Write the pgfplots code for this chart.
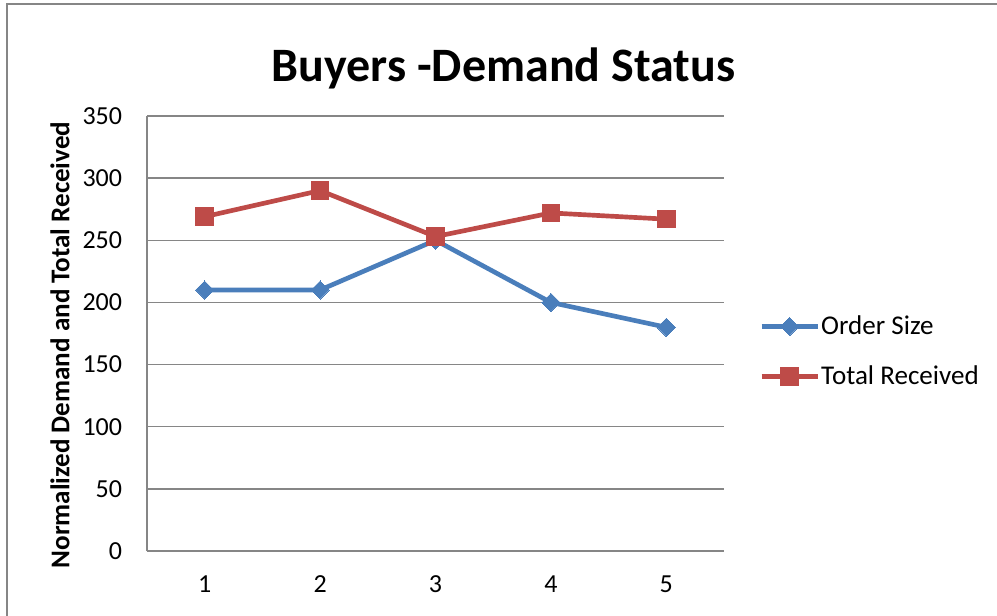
\documentclass[border=0pt]{standalone}
\usepackage{fontspec}
\setmainfont{Carlito}
\usepackage{pgfplots}
\pgfplotsset{compat=1.18}
\definecolor{gridgray}{HTML}{868686}
\definecolor{osblue}{HTML}{4A7EBB}
\definecolor{trred}{HTML}{BE4B48}
\begin{document}
\begin{tikzpicture}
\useasboundingbox (0pt,0pt) rectangle (747.75pt,461.25pt);
\draw[gridgray, line width=1.2pt] (5.25pt,-5pt) -- (5.25pt,458.25pt) -- (760pt,458.25pt);
\node[anchor=base, inner sep=0pt, font=\fontsize{36}{43}\selectfont\bfseries] at (377.6pt,399.75pt) {Buyers -Demand Status};
\node[rotate=90, inner sep=0pt, font=\fontsize{20.3}{24}\selectfont\bfseries] at (45pt,202.5pt) {Normalized Demand and Total Received};
\begin{axis}[
  at={(110.25pt,48pt)}, anchor=south west,
  scale only axis, width=432.75pt, height=326.25pt,
  xmin=0.5, xmax=5.5, ymin=0, ymax=350,
  xtick={1,2,3,4,5}, ytick={0,50,...,350},
  axis x line*=bottom, axis y line*=left,
  axis line style={-, draw=gridgray, line width=1pt},
  ymajorgrids, grid style={draw=gridgray, line width=1pt},
  major tick length=0pt,
  tick label style={font=\fontsize{19.5}{23}\selectfont},
  /pgf/number format/assume math mode=true,
  yticklabel style={anchor=east, inner sep=0pt, xshift=-18.5pt},
  xticklabel style={anchor=north, inner sep=0pt, yshift=-18.5pt},
  legend style={at={(1.0606,0.4586)}, anchor=west, draw=none, fill=none,
    inner sep=0pt, row sep=22pt, column sep=1pt,
    nodes={inner sep=0pt, anchor=west}, font=\fontsize{20.3}{24}\selectfont},
  legend cell align=left,
  legend image code/.code={\draw[mark repeat=2,mark phase=2,#1] plot coordinates {(0pt,0pt)(21pt,0pt)(42pt,0pt)};},
]
\addplot[osblue, line width=3.5pt, mark=square*, mark size=4.8pt, mark options={rotate=45, line width=0pt, fill=osblue}]
  coordinates {(1,210) (2,210) (3,250) (4,200) (5,180)};
\addlegendentry{Order Size}
\addplot[trred, line width=3.5pt, mark=square*, mark size=6.6pt, mark options={line width=0pt, fill=trred}]
  coordinates {(1,269) (2,290) (3,253) (4,272) (5,267)};
\addlegendentry{Total Received}
\end{axis}
\end{tikzpicture}
\end{document}
